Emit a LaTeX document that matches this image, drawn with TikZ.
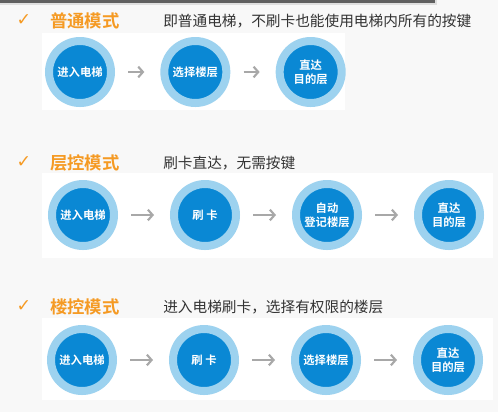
\documentclass[tikz,border=0pt]{standalone}
\usepackage{fontspec}
\newfontfamily\cjk{Noto Sans CJK SC}[BoldFont={Noto Sans CJK SC Bold}]
\newfontfamily\symb{DejaVu Sans}
\usetikzlibrary{positioning, arrows.meta}
\definecolor{ringblue}{HTML}{9DD2EF}
\definecolor{coreblue}{HTML}{0A88D4}
\definecolor{arrowgray}{HTML}{A8A8A8}
\definecolor{modeorange}{HTML}{F59A23}
\definecolor{desctext}{HTML}{333333}
\definecolor{pagebg}{HTML}{F8F8F8}

\begin{document}
\begin{tikzpicture}[
    x=0.75pt, y=-0.75pt,
    node distance=39pt,
    stepnode/.style={circle, fill=coreblue, draw=ringblue, line width=6pt, minimum size=46.5pt,
        inner sep=0pt, text=white, align=center, font=\cjk\bfseries\fontsize{8.5}{10.5}\selectfont},
    flow/.style={draw=arrowgray, line width=1.6pt, -{Straight Barb[length=3.5pt, width=8pt]},
        shorten <=10pt, shorten >=12pt},
    tick/.style={anchor=center, text=modeorange, font=\symb\fontsize{13}{14}\selectfont},
    mode/.style={anchor=west, inner sep=0pt, text=modeorange, font=\cjk\bfseries\fontsize{13}{15}\selectfont},
    desc/.style={anchor=west, inner sep=0pt, text=desctext, font=\cjk\fontsize{11}{13}\selectfont},
]
    \useasboundingbox (0,0) rectangle (498,412);
    \fill[pagebg] (0,0) rectangle (498,412);

    % shadow of the window above
    \fill[gray!25] (0,0) rectangle (437,5);
    \fill[gray!75!black] (0,0) rectangle (435,2.5);

    % white panels behind the rows
    \fill[white] (42,33) rectangle (345,110);
    \fill[white] (42,173) rectangle (493,258);
    \fill[white] (42,318) rectangle (493,400);

    % Mode 1
    \node[tick] (t1) at (24,20) {✓};
    \node[mode] (m1) at (50,21) {普通模式};
    \node[desc] (d1) at (163,21) {即普通电梯，不刷卡也能使用电梯内所有的按键};

    \node[stepnode] (a1) at (80,72) {进入电梯};
    \node[stepnode, right=34pt of a1] (a2) {选择楼层};
    \node[stepnode, right=34pt of a2] (a3) {直达\\目的层};

    \draw[flow] (a1) -- (a2);
    \draw[flow] (a2) -- (a3);

    % Mode 2
    \node[tick] (t2) at (24,162) {✓};
    \node[mode] (m2) at (50,163) {层控模式};
    \node[desc] (d2) at (163,163) {刷卡直达，无需按键};

    \node[stepnode] (b1) at (83,215) {进入电梯};
    \node[stepnode, right=of b1] (b2) {刷 卡};
    \node[stepnode, right=of b2] (b3) {自动\\登记楼层};
    \node[stepnode, right=of b3] (b4) {直达\\目的层};

    \draw[flow] (b1) -- (b2);
    \draw[flow] (b2) -- (b3);
    \draw[flow] (b3) -- (b4);

    % Mode 3
    \node[tick] (t3) at (24,306) {✓};
    \node[mode] (m3) at (50,307) {楼控模式};
    \node[desc] (d3) at (163,307) {进入电梯刷卡，选择有权限的楼层};

    \node[stepnode] (c1) at (82,360) {进入电梯};
    \node[stepnode, right=of c1] (c2) {刷 卡};
    \node[stepnode, right=of c2] (c3) {选择楼层};
    \node[stepnode, right=of c3] (c4) {直达\\目的层};

    \draw[flow] (c1) -- (c2);
    \draw[flow] (c2) -- (c3);
    \draw[flow] (c3) -- (c4);

\end{tikzpicture}
\end{document}
